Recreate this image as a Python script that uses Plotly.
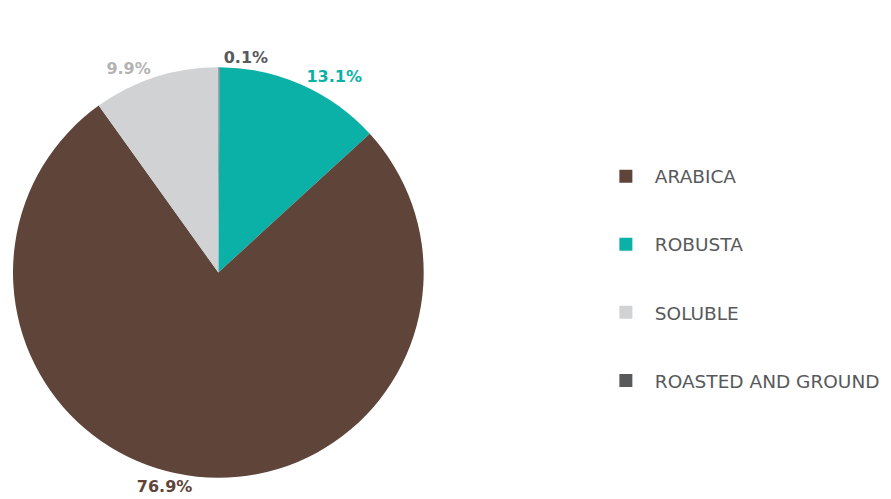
import plotly.graph_objects as go

# Data (legend order)
categories = ["ARABICA", "ROBUSTA", "SOLUBLE", "ROASTED AND GROUND"]
shares = [76.9, 13.1, 9.9, 0.1]
slice_colors = ["#5f4439", "#0bb1a6", "#d1d2d4", "#58595b"]
label_colors = ["#5f4439", "#0bb1a6", "#b3b3b3", "#58595b"]

# Clockwise order of slices starting at 12 o'clock
slice_order = [3, 1, 0, 2]

fig = go.Figure()
fig.add_trace(go.Pie(
    labels=[categories[i] for i in slice_order],
    values=[shares[i] for i in slice_order],
    marker=dict(colors=[slice_colors[i] for i in slice_order], line=dict(width=0)),
    sort=False,
    direction="clockwise",
    rotation=0,
    textposition="outside",
    texttemplate="%{value:.1f}%",
    textfont=dict(family="DejaVu Sans", size=16, color=[label_colors[i] for i in slice_order], weight="bold"),
    showlegend=False,
    hoverinfo="label+value",
    domain=dict(x=[0, 413/891], y=[28/499, 441/499]),
))

for i, cat in enumerate(categories):
    fig.add_trace(go.Scatter(
        x=[None], y=[None], mode="markers", name=cat,
        marker=dict(symbol="square", size=13, color=slice_colors[i]),
        legendgroup=cat, showlegend=True,
    ))

fig.update_layout(
    width=891, height=499,
    margin=dict(l=0, r=0, t=0, b=0),
    paper_bgcolor="white", plot_bgcolor="white",
    xaxis=dict(visible=False), yaxis=dict(visible=False),
    legend=dict(
        x=0.659, y=0.700, xanchor="left", yanchor="top",
        traceorder="grouped", tracegroupgap=41,
        font=dict(family="DejaVu Sans", size=18.5, color="#58595b"),
        itemwidth=48,
    ),
)

fig.write_html("out.html")
